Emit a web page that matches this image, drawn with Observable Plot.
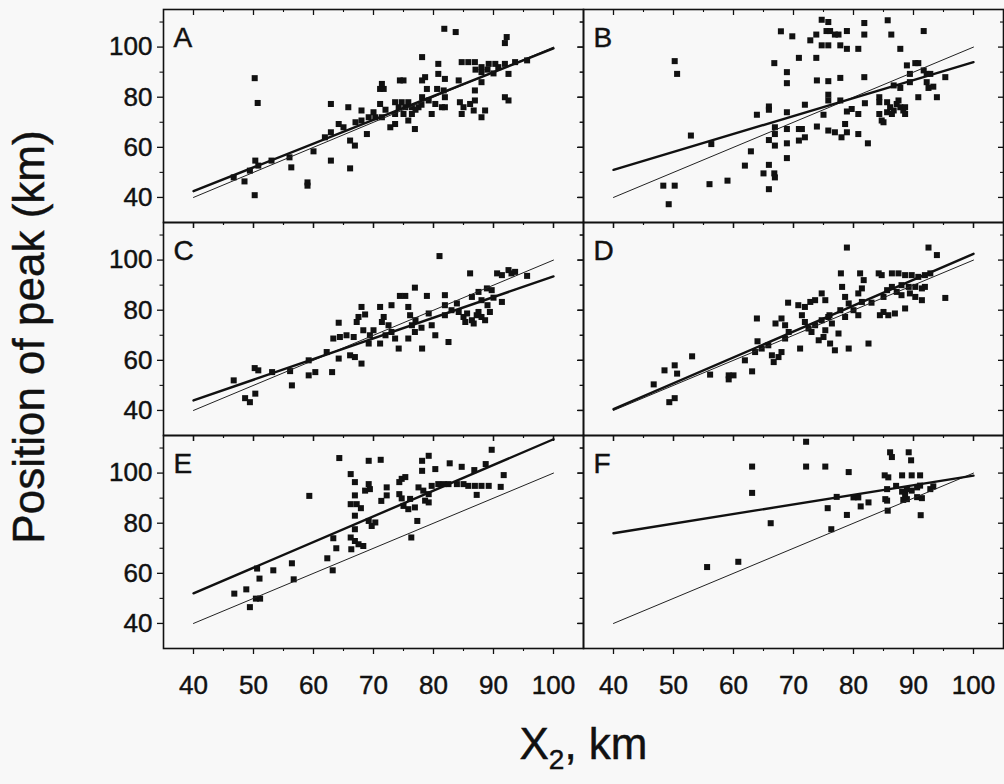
<!DOCTYPE html>
<html><head><meta charset="utf-8">
<script src="https://cdn.jsdelivr.net/npm/d3@7"></script>
<script src="https://cdn.jsdelivr.net/npm/@observablehq/plot@0.6"></script>
<style>
html,body{margin:0;padding:0;background:#f8f8f8;}
#chart{width:1004px;height:784px;}
#chart svg text{stroke:#111;stroke-width:0.45px;}
</style></head><body><div id="chart"></div>
<script>
// ---- data ----
const panelNames = ["A", "B", "C", "D", "E", "F"];
const xLabelTicks = [40, 50, 60, 70, 80, 90, 100];
const xMinorTicks = [45, 55, 65, 75, 85, 95];
const yLabelTicks = [40, 60, 80, 100];
const yMinorTicks = [50, 70, 90, 110];
const fitX = [40, 100];
const fitStart = [42.5, 51, 44, 40.5, 52, 76];
const fitEnd = [99.5, 94, 93.5, 102.5, 113.5, 99];
const identityLine = [[40, 40], [100, 100]];
const yTitle = "Position of peak (km)";
const xTitleParts = ["X", "2", ", km"];

const pointsA = [[81.8,107.3],[83.7,106],[92.2,104],[91.9,101.6],[50.2,87.6],[50.7,77.7],[50.2,40.9],[46.7,48],[48.5,46.4],[50.3,54.7],[49.4,50.7],[50.8,52.7],[53,54.7],[56.3,52],[56,56],[59,46],[59,44.7],[60,58.4],[62.9,54.7],[66.1,51.6],[61.9,64],[62.9,66],[62.9,77.3],[65.8,76],[64.2,69.3],[65,68],[66.1,62.7],[66.9,60.7],[68,74.7],[68,70.7],[68.9,65.3],[69.2,72],[70.3,72],[71.4,72],[71.1,83.3],[71.7,83.3],[71.4,85.3],[71.1,77.3],[72.8,68],[73.6,69.3],[74.4,86.7],[75,86.7],[73.6,78],[74.7,78],[75.8,78],[74.2,76],[75.3,76],[76.4,76],[77.5,76],[73.6,73.3],[75,73.3],[76.4,73.3],[75.8,70.7],[76.9,67.3],[78.1,96],[78.1,86.7],[78.6,88],[78.1,80],[79.2,78.7],[80.3,77.3],[81.4,76],[79.7,73.3],[80.8,93.3],[80.8,89.3],[81.9,87.3],[78.9,83.3],[80.6,83.3],[81.7,82.7],[81.9,80],[81.9,76],[84.2,86.7],[84.7,94],[85.8,94],[86.9,94],[84.4,78],[85,76],[84.7,73.3],[86.1,77.3],[86.9,78.7],[86.7,74.7],[86.9,82.7],[88,72],[88.6,74.7],[88,92],[88,90],[88,86],[89.2,93.3],[90.3,93.3],[90.8,92],[91.9,93.3],[92.5,89.3],[91.9,80],[92.5,78.7],[95.6,94.7],[93.6,94],[77,75],[78,77],[72,75],[70,74],[67,70],[89,91],[90,89.5],[87,91]];
const pointsB = [[50.2,94.4],[50.6,89.3],[52.9,64.7],[56.3,61.3],[48.3,44.7],[50.2,44.7],[49.2,37.3],[56,45.3],[59,46.7],[61.9,52.7],[62.9,58.4],[63.9,73],[65.9,76.3],[65.9,75],[65.9,62.9],[65.9,53],[65,49.6],[66.8,49.6],[66.9,48],[65.9,43.3],[66.8,93.6],[66.9,65.3],[66.9,60.7],[66.9,68],[67.9,106.3],[68.9,90],[68.9,85.6],[68.9,74],[68.9,67.3],[68.9,61.6],[68.9,55.7],[69.8,104.3],[70.9,95.7],[70.9,67.3],[71.4,67.3],[70.9,62.7],[71.9,64],[71.9,77],[72.8,102.7],[73.8,105],[73.8,95.7],[73.9,86.7],[73.9,68.3],[74.7,110.9],[75.8,110],[75.5,106.4],[76.1,106.4],[76.9,105],[77.5,105],[78.9,106.4],[74.7,100.7],[75.8,100.7],[75.8,86.4],[75.8,81],[75.8,78.7],[75,73],[75.8,66.7],[76.9,66],[77.8,87.7],[77.8,100.7],[78.9,99.3],[77.8,78.7],[78,64],[78.6,69.3],[78.9,66],[78.9,74.3],[79.7,75.3],[80.8,73.3],[80.8,99.3],[80.8,65.3],[81.8,109.6],[81.8,105],[81.8,88],[81.9,77.6],[82.4,61.6],[84.3,80],[84.3,78],[84.3,73.3],[84.7,70.7],[85,70],[85.6,78],[86.1,76],[86.7,74.7],[87.2,77.3],[87.8,76],[88.3,74.7],[88.6,73.3],[85.6,74],[86.4,73.3],[87.5,78.7],[88.6,76],[85.7,110.7],[86.3,105],[86.7,84.7],[87.8,99.3],[87.8,83.7],[88.9,92.7],[89.4,89.3],[89.4,86],[90.3,93.6],[90.8,93.6],[90.8,80],[91.7,106.4],[91.7,90.7],[92.2,89.3],[92.8,89.3],[92.2,86],[92.5,83.7],[93.3,84.2],[93.9,80],[95.3,88]];
const pointsC = [[81,101.6],[86.1,94.7],[90.6,94.7],[91.4,94],[92.5,96],[93,94.7],[93.6,95.3],[95.6,93.7],[46.7,52],[50.2,56.9],[50.8,56],[48.6,44.9],[49.4,43.3],[50.3,46.7],[53.1,55.3],[56.1,55.7],[56.4,50],[59.2,60],[59.2,54],[60.3,55.3],[62.2,63.3],[63.1,55.3],[64.2,75],[63.3,68.7],[64.4,69.3],[65.5,70],[66.7,69.3],[64.2,60.7],[66.1,62],[66.9,61.3],[68,58.7],[68,81.3],[67.2,75.3],[67.5,77.3],[68.6,78.3],[69.2,66.7],[69.4,70],[68.3,72],[71.1,81.3],[71.4,75.3],[71.7,77.3],[72.5,74],[73,71.3],[73.6,68.7],[71.1,66.7],[73,82],[74.2,64.7],[74.4,85.7],[75.3,85.7],[75.8,81.3],[76.1,78],[76.4,74],[76.9,71.3],[75.8,68.7],[76.9,89],[78.1,64.7],[78.9,85.7],[79.2,78.7],[79.7,74],[80.3,70],[81.9,86],[81.9,82],[81.9,78],[82.5,67.3],[83.9,82.7],[84.2,79.3],[85,77.3],[85.6,78.7],[86.4,76],[87.2,78],[88,77.3],[88.6,76],[85.3,75.3],[86.7,74.7],[87.5,79.3],[86.4,85.3],[87.5,87.3],[88.9,88.7],[89.7,88],[91.4,83.3],[89.4,79.3],[77,76],[78,73],[70,72],[72,70],[83,80],[89,82],[90,85],[88,84]];
const pointsD = [[78.9,105],[92.5,105],[93.9,102],[46.7,50.4],[48.5,56],[50.2,58],[50.6,54.7],[49.3,43.3],[50.2,44.9],[53.1,61.6],[56.1,54.3],[59.2,54],[60,54],[59.2,52.4],[61.9,60],[63.1,55.6],[63.9,76.7],[64,67.6],[63.6,63.3],[64.7,64.7],[65.8,66],[66.4,62],[66.7,59.3],[67.5,61.3],[68,63.3],[67,74.7],[68,76.7],[68.6,74],[69.2,71.3],[68.6,68.7],[69.1,83],[70.8,82],[71.1,64.7],[71.4,78],[71.9,75.3],[72.5,72.7],[73,71.3],[73.6,74],[71.9,81.3],[72.8,83.3],[73.6,84],[74.7,86.7],[75.3,84],[74.7,76],[75.8,77.3],[76.4,74.7],[75.3,72],[75,69.3],[74.2,68],[76.1,66.7],[76.9,64],[79.2,64.7],[77.9,94.7],[78.1,89.3],[78.6,85.3],[79.2,82.7],[77.8,80],[77.5,70.7],[78.6,77.3],[81.1,94.7],[81.7,92],[81.4,88.7],[80.8,86.7],[81.4,83.3],[80.8,78],[82.5,66.7],[84.2,94.7],[84.7,94],[84.4,78],[85,79.3],[85.8,78],[86.9,78.7],[88.6,80.7],[85,85.3],[85.6,88],[86.4,89.3],[87.2,87.3],[88,86],[86.4,94.7],[87.5,94.7],[88.6,94],[89.7,94],[90.8,93.3],[91.9,94],[92.8,94.7],[88,90],[89.2,89.3],[90.3,89.3],[91.4,88.7],[91.9,89.3],[89.4,86.7],[90.3,85.3],[91.4,84],[95.3,84.9],[83,83],[80,80],[76,78]];
const pointsE = [[46.8,51.9],[48.8,53.6],[49.4,46.5],[50.6,61.9],[51,57.9],[50.4,49.9],[51.1,49.9],[53.3,61.2],[56.4,64],[56.7,57.6],[59.3,90.9],[62.3,66],[63.2,61.2],[63.3,74],[63.8,70],[64.3,106],[66.2,99.6],[66.2,87.6],[66.2,74.3],[66.3,69.6],[66.9,72.9],[67.5,71.6],[68.3,70.9],[66.9,96.4],[66.9,91.1],[67.2,87.6],[66.9,83],[66.9,77.6],[67.9,86],[69.2,104.9],[69.2,95.6],[68.6,93],[69.4,93.6],[69.2,80.9],[69.7,78.9],[70.3,80.3],[71.2,105.3],[71.3,88.9],[72.2,94.3],[72.2,91.1],[74.3,96.4],[74.7,97.7],[75.3,98.4],[74.3,91.6],[75,86.9],[75.8,85.6],[76.9,86.3],[76.1,89.7],[74.7,89.9],[76.3,74.3],[77.3,80.9],[78.1,104.9],[79.2,106.9],[78.1,100.9],[80.3,101.6],[77.5,94.3],[78.3,93],[79.2,91.6],[78.6,89],[79.2,88.3],[79.7,94.9],[80.8,95.6],[81.7,95.6],[82.5,95.6],[82.7,103.9],[84.7,102.5],[83.9,95.6],[85,95.6],[85.8,94.9],[86.9,94.9],[88,94.9],[89.2,94.9],[86.8,101.2],[87.2,91.3],[88.7,103.6],[89.7,109.3],[91.2,94.5],[91.7,99.2]];
const pointsF = [[55.6,62.5],[60.8,64.6],[63.1,102.6],[63.1,92.1],[66.2,80],[72.1,112.5],[72.1,102.6],[75.3,102.6],[75.7,86],[76.3,77.6],[77.2,90.5],[78.9,83.3],[79.2,100.4],[80,90.3],[80.8,90.3],[81.2,86.7],[82.5,88.3],[85.2,99.1],[85.8,98.3],[85.6,93.6],[85.3,89.6],[85.6,89],[85.7,85],[86.1,108.3],[86.4,106.4],[87.1,94.9],[88.1,99.1],[88.1,92.6],[88.6,91.3],[88.3,89.3],[89.2,108.3],[89.6,105.1],[89.7,99.1],[88.9,93.6],[89.7,93],[90.6,94.3],[91.1,95],[88.9,89.6],[91.1,99.1],[90.6,90.4],[91.4,90],[91.2,83.2],[92.8,93.6],[93.3,94.7]];

// ---- build tables ----
const pointSets = [pointsA, pointsB, pointsC, pointsD, pointsE, pointsF];
const cell = i => ({col: i % 2, row: Math.floor(i / 2)});
const points = pointSets.flatMap((pts, i) => pts.map(([x, y]) => ({x, y, panel: panelNames[i], ...cell(i)})));
const fits = panelNames.flatMap((p, i) => [
  {x: fitX[0], y: fitStart[i], panel: p, ...cell(i)},
  {x: fitX[1], y: fitEnd[i], panel: p, ...cell(i)}
]);
const refLine = identityLine.map(([x, y]) => ({x, y}));
const letters = panelNames.map((p, i) => ({name: p, ...cell(i)}));

const FW = 420, FH = 213;
const INK = "#111";

const chart = Plot.plot({
  width: 1004,
  height: 784,
  marginLeft: 163,
  marginRight: 1,
  marginTop: 9,
  marginBottom: 136,
  style: {fontFamily: "'Liberation Sans', Arial, Helvetica, sans-serif", background: "#f8f8f8", color: INK},
  x: {domain: [35, 105]},
  y: {domain: [30, 115]},
  fx: {domain: [0, 1], axis: null, padding: 0},
  fy: {domain: [0, 1, 2], axis: null, padding: 0},
  marks: [
    // ticks on every panel
    Plot.tickX(xLabelTicks, {x: d => d, insetTop: FH, insetBottom: -6, stroke: INK, strokeWidth: 1.3}),
    Plot.tickX(xMinorTicks, {x: d => d, insetTop: FH, insetBottom: -3, stroke: INK, strokeWidth: 1.1}),
    Plot.tickX(xLabelTicks, {x: d => d, insetTop: 0, insetBottom: FH - 6, stroke: INK, strokeWidth: 1.3}),
    Plot.tickX(xMinorTicks, {x: d => d, insetTop: 0, insetBottom: FH - 3, stroke: INK, strokeWidth: 1.1}),
    Plot.tickY(yLabelTicks, {y: d => d, insetLeft: -6, insetRight: FW, stroke: INK, strokeWidth: 1.3}),
    Plot.tickY(yMinorTicks, {y: d => d, insetLeft: -3.5, insetRight: FW, stroke: INK, strokeWidth: 1.1}),
    Plot.tickY(yLabelTicks, {y: d => d, insetLeft: FW - 5, insetRight: 0, stroke: INK, strokeWidth: 1.3}),
    Plot.tickY(yMinorTicks, {y: d => d, insetLeft: FW - 3, insetRight: 0, stroke: INK, strokeWidth: 1.1}),
    Plot.frame({stroke: INK, strokeWidth: 1.6}),
    // tick labels
    Plot.axisX({ticks: xLabelTicks, tickSize: 0, tickPadding: 27, fontSize: 26, label: null}),
    Plot.axisY({ticks: yLabelTicks, tickSize: 0, tickPadding: 11, fontSize: 26, label: null}),
    // data
    Plot.dot(points, {x: "x", y: "y", fx: "col", fy: "row", symbol: "square", r: 3.4, fill: INK, stroke: null}),
    Plot.line(refLine, {x: "x", y: "y", stroke: "#222", strokeWidth: 1}),
    Plot.line(fits, {x: "x", y: "y", fx: "col", fy: "row", z: "panel", stroke: INK, strokeWidth: 2.4}),
    // panel letters
    Plot.text(letters, {fx: "col", fy: "row", text: "name", frameAnchor: "top-left", textAnchor: "start", lineAnchor: "top", dx: 10, dy: 18, fontSize: 28, fill: INK}),
    // axis titles
    Plot.text([{t: yTitle, col: 0, row: 1}], {fx: "col", fy: "row", text: "t", frameAnchor: "left", rotate: -90, textAnchor: "middle", lineAnchor: "middle", dx: -134, dy: 8, fontSize: 44, fill: INK}),
    Plot.text([{t: xTitleParts.join(""), col: 0, row: 2}], {fx: "col", fy: "row", text: "t", frameAnchor: "bottom-right", textAnchor: "middle", lineAnchor: "middle", dy: 96, fontSize: 44, fill: INK})
  ]
});

// subscript for the x-axis title
const full = xTitleParts.join("");
d3.select(chart).selectAll("text").filter(function () { return this.textContent === full; }).each(function () {
  const t = d3.select(this);
  t.text("");
  t.append("tspan").text(xTitleParts[0]);
  t.append("tspan").attr("font-size", "28px").attr("dy", "10px").text(xTitleParts[1]);
  t.append("tspan").attr("dy", "-10px").text(xTitleParts[2]);
});

document.getElementById("chart").append(chart);
</script></body></html>
